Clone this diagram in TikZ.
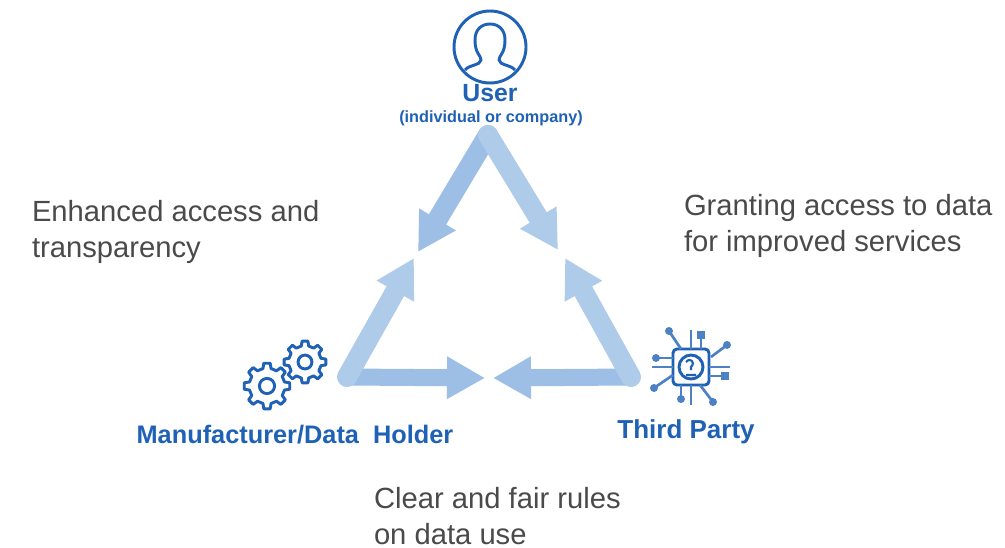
\documentclass[tikz,border=0pt]{standalone}
\usepackage{fontspec}
\setmainfont{Liberation Sans}
\usetikzlibrary{arrows.meta}
\definecolor{iconblue}{HTML}{1F62B5}
\definecolor{armdark}{HTML}{9DBFE6}
\definecolor{armlight}{HTML}{AFCBEA}
\definecolor{notegray}{HTML}{4A4A4A}
\tikzset{
  pics/gearicon/.style={code={
    \draw[iconline] (-13:0.78*#1)
      \foreach \a in {0,45,...,315} {
        -- (\a-13:0.78*#1) -- (\a-8:#1) -- (\a+8:#1) -- (\a+13:0.78*#1)
      } -- cycle;
    \draw[iconline] (0,0) circle[radius=0.33*#1];
  }}
}
\begin{document}
\begin{tikzpicture}[x=0.75pt, y=-0.75pt,
  every node/.style = {inner sep=0pt, outer sep=0pt},
  iconline/.style = {draw=iconblue, line width=2.2pt, line join=round},
  pinline/.style = {draw=iconblue!80, line width=2pt},
  pindot/.style = {fill=iconblue!80, draw=none},
  arm/.style = {draw=#1, line width=12.75pt, line cap=round,
    -{Triangle[width=30pt, length=28.5pt]}},
  slantarm/.style = {arm=#1, line width=15pt},
  note/.style = {text=notegray, font=\fontsize{21.9}{26.4}\selectfont, align=left, anchor=west},
  actor/.style = {text=iconblue, font=\bfseries\fontsize{19}{22}\selectfont}]
  \useasboundingbox (0,0) rectangle (1005,547);
  \fill[white] (0,0) rectangle (1005,547);

  % corners and arrow ends
  \coordinate (apex) at (488,135);
  \coordinate (holdercorner) at (347,377);
  \coordinate (partycorner) at (631,377);
  \coordinate (userleft) at (418,252);
  \coordinate (userright) at (558,250);
  \coordinate (holderup) at (414,258);
  \coordinate (partyup) at (565,258);
  \coordinate (holderin) at (485,378);
  \coordinate (partyin) at (493,378);

  \draw[slantarm=armdark] (apex) -- (userleft);
  \draw[slantarm=armlight] (apex) -- (userright);
  \draw[arm=armdark] (holdercorner) -- (holderin);
  \draw[slantarm=armlight] (holdercorner) -- (holderup);
  \draw[arm=armdark] (partycorner) -- (partyin);
  \draw[slantarm=armlight] (partycorner) -- (partyup);

  % user icon
  \draw[iconline] (490,47) circle[radius=36];
  \draw[iconline] (465,70) .. controls (470,64) and (480,66) .. (481,60)
    .. controls (481,55) and (475,54) .. (475,40)
    .. controls (475,29) and (482,24) .. (490,24)
    .. controls (498,24) and (505,29) .. (505,40)
    .. controls (505,54) and (499,55) .. (499,60)
    .. controls (500,66) and (510,64) .. (515,70);

  % gears
  \pic at (267,386) {gearicon=23};
  \pic at (305,362) {gearicon=21};

  % chip
  \draw[iconline, rounded corners=3] (673,349) rectangle (709,385);
  \draw[iconline] (691,367) circle[radius=12];
  \draw[iconline, line width=1.6pt] (686,362) .. controls (690,357) and (696,362) .. (691,367) -- (691,370)
    (696,375) -- (686,375);
  \foreach \xa/\ya/\xb/\yb in {691/349/691/330, 681/349/669/331, 711/357/727/345, 709/367/730/367,
    673/367/652/367, 673/358/656/358, 673/375/654/388, 691/385/691/405, 681/385/681/399,
    700/385/713/402, 701/349/701/335, 709/376/725/376} {
    \draw[pinline] (\xa,\ya) -- (\xb,\yb);
  }
  \foreach \xb/\yb in {669/331, 727/345, 656/358, 654/388, 681/399, 713/402} {
    \fill[pindot] (\xb,\yb) circle[radius=4];
  }
  \foreach \xb/\yb in {701/335, 725/376} {
    \fill[pindot] (\xb-4,\yb-4) rectangle (\xb+4,\yb+4);
  }

  % labels
  \node[actor, font=\bfseries\fontsize{18.6}{22}\selectfont] (user) at (490,93) {User};
  \node[actor, font=\bfseries\fontsize{12.2}{15}\selectfont] (usernote) at (491,118) {(individual or company)};
  \node[actor] (holder) at (295,435) {Manufacturer/Data\ \ Holder};
  \node[actor, font=\bfseries\fontsize{19.5}{22}\selectfont] (party) at (686,432) {Third Party};
  \node[note] (enhanced) at (32,232) {Enhanced access and\\transparency};
  \node[note] (granting) at (684,226) {Granting access to data\\for improved services};
  \node[note] (rules) at (374,516) {Clear and fair rules\\on data use};
\end{tikzpicture}
\end{document}
